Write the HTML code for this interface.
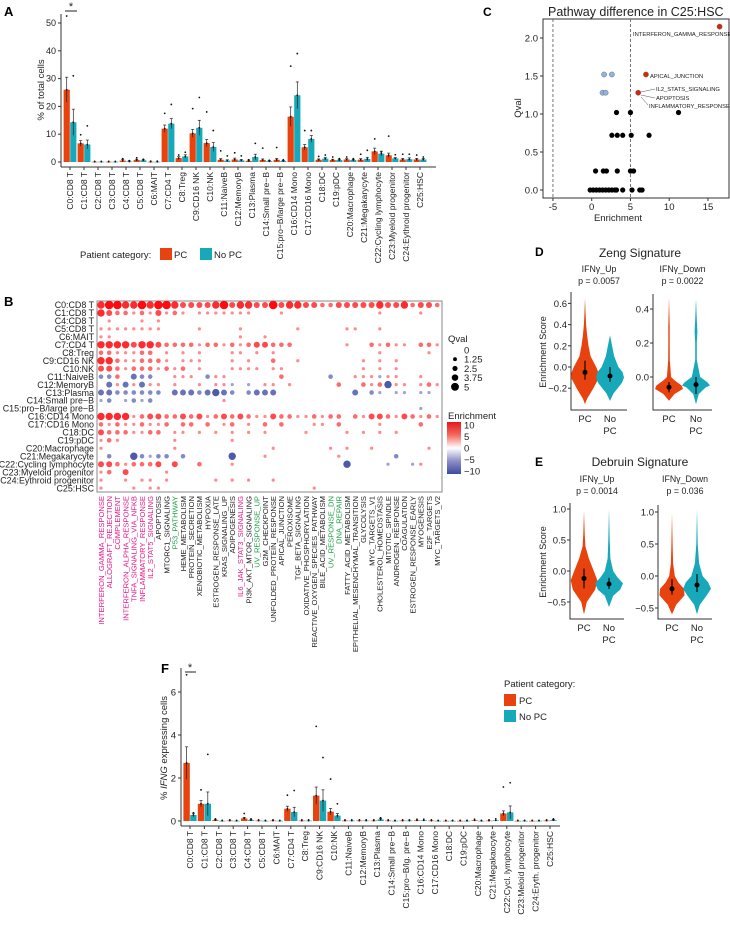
<!DOCTYPE html>
<html><head><meta charset="utf-8"><style>
html,body{margin:0;padding:0;background:#fff;}
svg{display:block;font-family:"Liberation Sans",Arial,sans-serif;}
</style></head><body>
<svg id="fig" width="730" height="926" viewBox="0 0 730 926" xmlns="http://www.w3.org/2000/svg">
<g id="gA"></g>
<g id="gB"></g>
<g id="gC"></g>
<g id="gD"></g>
<g id="gE"></g>
<g id="gF"></g>
</svg>
<script>
// ---------- Panel A data ----------
const aCats = ["C0:CD8 T","C1:CD8 T","C2:CD8 T","C3:CD8 T","C4:CD8 T","C5:CD8 T","C6:MAIT","C7:CD4 T","C8:Treg","C9:CD16 NK","C10:NK","C11:NaiveB","C12:MemoryB","C13:Plasma","C14:Small pre\u2212B","C15:pro\u2212B/large pre\u2212B","C16:CD14 Mono","C17:CD16 Mono","C18:DC","C19:pDC","C20:Macrophage","C21:Megakarycyte","C22:Cycling lymphocyte","C23:Myeloid progenitor","C24:Eythroid progenitor","C25:HSC"];
const aPC   = [26,6.7,0.1,0.1,0.5,0.7,0.1,12,1.4,10.3,6.8,0.8,0.9,0.4,0.7,0.8,16.3,5.3,0.8,0.7,0.9,0.8,3.8,2.4,0.9,0.9];
const aNoPC = [14.3,6.3,0.1,0.1,0.2,0.6,0.1,13.8,2,12.3,5.4,0.5,0.6,1.8,0.3,0.4,24,8.3,1.2,0.7,0.7,1.1,3,1.3,1,0.9];
const aErrPC   = [4.5,1,0,0,0.4,0.3,0,1.3,0.5,1.4,1.3,0.4,0.5,0.3,0.4,0.5,3.5,1,0.3,0.3,0.3,0.4,1.2,0.8,0.4,0.4];
const aErrNoPC = [4.7,1.6,0,0,0.2,0.2,0,1.8,0.6,2.7,1.6,0.3,0.3,1,0.2,0.2,4.8,1.2,0.4,0.3,0.2,0.6,0.9,0.3,0.5,0.4];
const aMaxPC   = [52.5,9.8,0.2,0.2,1.2,1.5,0.3,17.5,2.5,19.2,18,4,3.3,0.8,5,5.2,34.5,11.3,2,1.8,1.8,2.8,8.3,9.3,2.8,2.5];
const aMaxNoPC = [31,13,0.2,0.2,0.5,1,0.3,20.7,3.5,23.2,11.3,2.2,2.2,6.7,0.6,0.8,39,11.3,2.5,1.2,1.2,4.2,3.6,2.6,2.8,1.8];
const aTicks = [0,10,20,30,40,50];

// ---------- Panel B data ----------
const bRows = ["C0:CD8 T","C1:CD8 T","C4:CD8 T","C5:CD8 T","C6:MAIT","C7:CD4 T","C8:Treg","C9:CD16 NK","C10:NK","C11:NaiveB","C12:MemoryB","C13:Plasma","C14:Small pre\u2212B","C15:pro\u2212B/large pre\u2212B","C16:CD14 Mono","C17:CD16 Mono","C18:DC","C19:pDC","C20:Macrophage","C21:Megakarycyte","C22:Cycling lymphocyte","C23:Myeloid progenitor","C24:Eythroid progenitor","C25:HSC"];
const bCols = ["INTERFERON_GAMMA_RESPONSE","ALLOGRAFT_REJECTION","COMPLEMENT","INTERFERON_ALPHA_RESPONSE","TNFA_SIGNALING_VIA_NFKB","INFLAMMATORY_RESPONSE","IL2_STAT5_SIGNALING","APOPTOSIS","MTORC1_SIGNALING","P53_PATHWAY","HEME_METABOLISM","PROTEIN_SECRETION","XENOBIOTIC_METABOLISM","HYPOXIA","ESTROGEN_RESPONSE_LATE","KRAS_SIGNALING_UP","ADIPOGENESIS","IL6_JAK_STAT3_SIGNALING","PI3K_AKT_MTOR_SIGNALING","UV_RESPONSE_UP","G2M_CHECKPOINT","UNFOLDED_PROTEIN_RESPONSE","APICAL_JUNCTION","PEROXISOME","TGF_BETA_SIGNALING","OXIDATIVE_PHOSPHORYLATION","REACTIVE_OXYGEN_SPECIES_PATHWAY","BILE_ACID_METABOLISM","UV_RESPONSE_DN","DNA_REPAIR","FATTY_ACID_METABOLISM","EPITHELIAL_MESENCHYMAL_TRANSITION","GLYCOLYSIS","MYC_TARGETS_V1","CHOLESTEROL_HOMEOSTASIS","MITOTIC_SPINDLE","ANDROGEN_RESPONSE","COAGULATION","ESTROGEN_RESPONSE_EARLY","MYOGENESIS","E2F_TARGETS","MYC_TARGETS_V2"];
const bColColors = ["m","m","m","m","m","m","m","k","k","g","k","k","k","k","k","k","k","m","k","g","k","k","k","k","k","k","k","k","g","g","k","k","k","k","k","k","k","k","k","k","k","k"];
// per-cell level: digits 1-5 = positive enrichment/qval level, letters a-e = negative
const bCells = [
"455445455433334534433534433223333343342332",
"432212131210111111100010000000000010000100",
"010001010000000000000000000000000000000000",
"111111110000100001000000100000110010000000",
"110000000000000001001000000000000000000000",
"444434432222122121233222000000100212110221",
"221112201010100011010100000000000010000010",
"442112221011100010100200100000001010100000",
"332122212120100011110110000000001010100000",
"bb20cbb001110b11000000200000b00111a1100100",
"0c1c1c1101001011a0a0110100000200212d110121",
"ccbbbbbb0cccbcdcb0bccc000000000c0ba0aa0aa0",
"ab0abab00000000100000000000000000000000000",
"000000000000000000000000000000000000000a00",
"444412332232312323211322112122021332132121",
"212112112022020120102020001102000010000200",
"322211220110101010101000010000101010100000",
"121000000100000010000000000000000000000000",
"100000000100000000000100000010100100000010",
"0b00dbabb0b00000d0001000000001000000b00000",
"332122230300200010000000000000d0000a00a100",
"120300001000000000000000000000000000000000",
"100101101000001010100100000000000000000000",
"100010110000000000000000001000000000000000"];
const bQvalLegend = ["0","1.25","2.5","3.75","5"];
const bEnrLegend = ["10","5","0","\u22125","\u221210"];

// ---------- Panel C data ----------
const cEnr  = [16.5,7.0,6.0,1.6,2.6,1.4,1.8,3.2,5.0,11.2,2.6,3.3,4.0,5.1,7.4,0.5,1.5,1.9,3.3,5.0,5.4,-0.2,0.2,0.6,1.0,1.4,1.8,2.2,2.6,3.0,3.2,4.0,5.2,6.2,6.5];
const cQval = [2.15,1.52,1.28,1.52,1.52,1.28,1.28,1.02,1.02,1.02,0.72,0.72,0.72,0.72,0.72,0.25,0.25,0.25,0.25,0.25,0.25,0,0,0,0,0,0,0,0,0,0,0,0,0,0];
const cGroup= ["up","up","up","dn","dn","dn","dn","ns","ns","ns","ns","ns","ns","ns","ns","ns","ns","ns","ns","ns","ns","ns","ns","ns","ns","ns","ns","ns","ns","ns","ns","ns","ns","ns","ns"];
const cXTicks = [-5,0,5,10,15];
const cYTicks = [0,0.5,1,1.5,2];

// ---------- Violin data (D, E) ----------
const dUpPCv = [-0.35,-0.3,-0.2,-0.1,-0.05,0,0.1,0.2,0.3,0.4,0.5,0.65];
const dUpPCd = [0,0.15,0.6,1,0.95,0.8,0.4,0.25,0.15,0.08,0.04,0];
const dUpNov = [-0.32,-0.25,-0.15,-0.1,-0.05,0,0.1,0.2,0.3];
const dUpNod = [0,0.25,0.85,1,0.9,0.6,0.3,0.15,0];
const dDnPCv = [-0.14,-0.1,-0.07,-0.05,-0.02,0,0.1,0.2,0.3,0.47];
const dDnPCd = [0,0.4,1,0.9,0.4,0.15,0.06,0.05,0.05,0];
const dDnNov = [-0.16,-0.1,-0.06,-0.05,-0.03,0,0.1,0.2,0.27,0.35,0.46];
const dDnNod = [0,0.2,0.7,1,0.8,0.3,0.06,0.06,0.1,0.05,0];
const eUpPCv = [-0.7,-0.5,-0.3,-0.15,0,0.2,0.4,0.6,0.97];
const eUpPCd = [0,0.2,0.8,0.95,0.7,0.35,0.1,0.05,0];
const eUpNov = [-0.58,-0.4,-0.3,-0.2,-0.1,0,0.2,0.5,1.0];
const eUpNod = [0,0.3,0.8,1,0.6,0.3,0.1,0.05,0];
const eDnPCv = [-0.6,-0.45,-0.3,-0.2,-0.1,0,0.2,0.5,0.98];
const eDnPCd = [0,0.3,0.9,0.85,0.45,0.2,0.08,0.04,0];
const eDnNov = [-0.6,-0.45,-0.3,-0.2,-0.1,0,0.2,0.5,1.05];
const eDnNod = [0,0.2,0.7,1,0.8,0.4,0.15,0.05,0];
const vPoints = [-0.05,-0.085,-0.06,-0.045,-0.12,-0.21,-0.2,-0.14];
const vLow    = [-0.12,-0.14,-0.09,-0.1,-0.28,-0.29,-0.29,-0.25];
const vHigh   = [0.06,0.0,-0.03,0.0,0.04,-0.11,-0.05,0.03];

// ---------- Panel F data ----------
const fCats = ["C0:CD8 T","C1:CD8 T","C2:CD8 T","C3:CD8 T","C4:CD8 T","C5:CD8 T","C6:MAIT","C7:CD4 T","C8:Treg","C9:CD16 NK","C10:NK","C11:NaiveB","C12:MemoryB","C13:Plasma","C14:Small pre\u2212B","C15:pro\u2212B/lg. pre\u2212B","C16:CD14 Mono","C17:CD16 Mono","C18:DC","C19:pDC","C20:Macrophage","C21:Megakaocyte","C22:Cycl. lymphocyte","C23:Meloid progenitor","C24:Eryth. progenitor","C25:HSC"];
const fPC   = [2.7,0.8,0.04,0.02,0.12,0.02,0.02,0.57,0.02,1.18,0.43,0.02,0.02,0.02,0.02,0.02,0.03,0.02,0.01,0.01,0.03,0.02,0.35,0.01,0.01,0.02];
const fNoPC = [0.28,0.8,0.01,0.01,0.04,0.01,0.01,0.42,0.02,0.95,0.25,0.02,0.02,0.07,0.01,0.02,0.03,0.01,0.01,0.01,0.01,0.03,0.4,0.01,0.01,0.04];
const fErrPC   = [0.75,0.15,0.02,0.01,0.05,0.01,0.01,0.12,0.01,0.4,0.15,0.01,0.01,0.01,0.01,0.01,0.01,0.01,0,0,0.01,0.01,0.12,0,0,0.01];
const fErrNoPC = [0.08,0.55,0,0,0.02,0,0,0.22,0.01,0.5,0.1,0.01,0.01,0.04,0,0.01,0.01,0,0,0,0,0.01,0.3,0,0,0.02];
const fMaxPC   = [6.8,1.45,0.1,0.05,0.35,0.05,0.05,1.2,0.05,4.4,1.95,0.05,0.05,0.05,0.05,0.05,0.08,0.05,0.03,0.03,0.08,0.05,1.58,0.03,0.03,0.05];
const fMaxNoPC = [0.38,3.1,0.03,0.03,0.1,0.03,0.03,1.42,0.05,2.95,0.8,0.05,0.05,0.15,0.03,0.05,0.08,0.03,0.03,0.03,0.03,0.1,1.78,0.03,0.03,0.1];
const fTicks = [0,2,4,6];

// ---------- helpers ----------
const NS="http://www.w3.org/2000/svg";
const ORANGE="#E8430E", TEAL="#17A8B9";
function mk(parent, tag, attrs, text){
  const el=document.createElementNS(NS,tag);
  for(const k in attrs) el.setAttribute(k, attrs[k]);
  if(text!==undefined) el.textContent=text;
  parent.appendChild(el);
  return el;
}
function lbl(parent,x,y,t,size,anchor,extra){
  const a={x:x,y:y,'font-size':size,'text-anchor':anchor||'start',fill:'#222'};
  if(extra) for(const k in extra) a[k]=extra[k];
  return mk(parent,'text',a,t);
}

// ---------- Panel A ----------
(function(){
  const g=document.getElementById('gA');
  const x0=61, y0=162, ppu=2.78, cx0=70, step=14;
  const ay=v=>y0-v*ppu, ax=i=>cx0+i*step;
  let t=lbl(g,4,16,'A',13,'start',{'font-weight':'bold',fill:'#000'});
   
  let l=mk(g,'line',{x1:x0,y1:14,x2:x0,y2:167,stroke:'#333','stroke-width':1});
   
  l=mk(g,'line',{x1:x0,y1:167,x2:436,y2:167,stroke:'#333','stroke-width':1});
   
  aTicks.forEach(v=>{
    mk(g,'line',{x1:x0-3,y1:ay(v),x2:x0,y2:ay(v),stroke:'#333'});
    const tt=lbl(g,x0-5,ay(v)+3,String(v),9,'end');
     
  });
  t=lbl(g,0,0,'% of total cells',9.5,'middle',{transform:'translate(44,90) rotate(-90)'});
   
  aCats.forEach((c,i)=>{
    const cx=ax(i);
    [[aPC,aErrPC,aMaxPC,ORANGE,-3.3],[aNoPC,aErrNoPC,aMaxNoPC,TEAL,3.3]].forEach(s=>{
      const v=s[0][i], bx=cx+s[4]-3.1;
      const r=mk(g,'rect',{x:bx,y:ay(v),width:6.2,height:Math.max(0.6,v*ppu),fill:s[3]});
       
      const e=s[1][i];
      if(e>0){
        mk(g,'line',{x1:cx+s[4],y1:ay(v+e),x2:cx+s[4],y2:ay(Math.max(0,v-e)),stroke:'#222','stroke-width':0.7});
        mk(g,'line',{x1:cx+s[4]-1.5,y1:ay(v+e),x2:cx+s[4]+1.5,y2:ay(v+e),stroke:'#222','stroke-width':0.7});
      }
      const p=mk(g,'circle',{cx:cx+s[4],cy:ay(s[2][i]),r:0.9,fill:'#111'});
       
      mk(g,'circle',{cx:cx+s[4],cy:ay(v),r:0.9,fill:'#111'});
    });
    mk(g,'line',{x1:cx,y1:167,x2:cx,y2:170,stroke:'#333'});
    const tt=lbl(g,0,0,c,8.5,'end',{transform:'translate('+(cx+3)+',172) rotate(-90)'});
     
  });
  mk(g,'line',{x1:65,y1:11,x2:77,y2:11,stroke:'#222'});
  t=lbl(g,71,10,'*',11,'middle');  
  const lg=mk(g,'g',{});  
  lbl(lg,80,258,'Patient category:',9.5,'start');
  mk(lg,'rect',{x:160,y:248,width:12,height:12,fill:ORANGE});
  lbl(lg,174,258,'PC',9.5,'start');
  mk(lg,'rect',{x:200,y:248,width:12,height:12,fill:TEAL});
  lbl(lg,214,258,'No PC',9.5,'start');
})();

// ---------- Panel B ----------
(function(){
  const g=document.getElementById('gB');
  const bx=97, by=301, bw=345, bh=191, c0=101, cs=8.2, r0=305, rs=7.96;
  let t=lbl(g,4,306,'B',13,'start',{'font-weight':'bold',fill:'#000'});
   
  const box=mk(g,'rect',{x:bx,y:by,width:bw,height:bh,fill:'none',stroke:'#888','stroke-width':1});
   
  const sizes=[0,1.6,2.3,3.0,3.7,4.3];
  function col(ch){
    const code=ch.charCodeAt(0);
    if(ch>='1'&&ch<='5'){const n=+ch; const f=0.35+0.65*n/5; return {lv:n,c:'rgb(255,'+Math.round(255-(255-10)*f)+','+Math.round(255-(255-15)*f)+')'};}
    if(ch>='a'&&ch<='e'){const n=code-96; const f=0.35+0.65*n/5; return {lv:n,c:'rgb('+Math.round(255-(255-50)*f)+','+Math.round(255-(255-65)*f)+','+Math.round(255-(255-160)*f)+')'};}
    return null;
  }
  bRows.forEach((rn,ri)=>{
    const y=r0+ri*rs;
    const tt=lbl(g,94,y+3.2,rn,8.9,'end');
     
    const s=bCells[ri];
    for(let ci=0;ci<bCols.length;ci++){
      const o=col(s.charAt(ci)||'0'); if(!o) continue;
      const d=mk(g,'circle',{cx:c0+ci*cs,cy:y,r:sizes[o.lv],fill:o.c});
       
    }
  });
  const colMap={m:'#E6198A',g:'#1DA045',k:'#222'};
  bCols.forEach((cn,ci)=>{
    const x=c0+ci*cs;
    const tt=lbl(g,0,0,cn,7.6,'end',{transform:'translate('+(x+2.8)+',496) rotate(-90)',fill:colMap[bColColors[ci]]});
     
  });
  const lq=mk(g,'g',{});  
  lbl(lq,448,342,'Qval',9.5,'start');
  bQvalLegend.forEach((q,i)=>{
    const y=350+i*9.2;
    if(i>0) mk(lq,'circle',{cx:455,cy:y,r:sizes[i]*0.95+0.4,fill:'#000'});
    lbl(lq,464,y+3.5,q,9.5,'start');
  });
  const le=mk(g,'g',{});  
  lbl(le,448,419,'Enrichment',9.5,'start');
  const defs=mk(g,'defs',{});
  const gr=mk(defs,'linearGradient',{id:'enrGrad',x1:0,y1:0,x2:0,y2:1});
  [['0','#E3191C'],['0.25','#F16A5E'],['0.5','#FFFFFF'],['0.75','#8E8FC6'],['1','#3A4BA0']].forEach(s=>mk(gr,'stop',{offset:s[0],'stop-color':s[1]}));
  mk(le,'rect',{x:447,y:422,width:14,height:52,fill:'url(#enrGrad)'});
  bEnrLegend.forEach((v,i)=>{
    const y=425+i*11.5;
    lbl(le,464,y+3.5,v,9.5,'start');
  });
})();

// ---------- Panel C ----------
(function(){
  const g=document.getElementById('gC');
  const X0=591.7, xs=7.75, Y0=190, ys=76;
  const cx=v=>X0+v*xs, cy=v=>Y0-v*ys;
  let t=lbl(g,483,16,'C',12,'start',{'font-weight':'bold',fill:'#000'});
   
  t=lbl(g,548,16,'Pathway difference in C25:HSC',12.5,'start');
   
  const f=mk(g,'rect',{x:543,y:19,width:186,height:179,fill:'none',stroke:'#333','stroke-width':1});
   
  [-5,5].forEach(v=>{const d=mk(g,'line',{x1:cx(v),y1:19,x2:cx(v),y2:198,stroke:'#555','stroke-dasharray':'3,2','stroke-width':0.8});
     });
  cXTicks.forEach(v=>{mk(g,'line',{x1:cx(v),y1:198,x2:cx(v),y2:201,stroke:'#333'});
    const tt=lbl(g,cx(v),210,String(v),9.5,'middle');  });
  cYTicks.forEach(v=>{mk(g,'line',{x1:540,y1:cy(v),x2:543,y2:cy(v),stroke:'#333'});
    const tt=lbl(g,538,cy(v)+3.5,v.toFixed(1),9.5,'end');  });
  t=lbl(g,618,221,'Enrichment',9.5,'middle');  
  t=lbl(g,0,0,'Qval',9.5,'middle',{transform:'translate(521,108) rotate(-90)'});  
  const colors={up:'#D7260E',dn:'#8EB4E3',ns:'#000'};
  cEnr.forEach((e,i)=>{
    const p=mk(g,'circle',{cx:cx(e),cy:cy(cQval[i]),r:2.6,fill:colors[cGroup[i]],stroke:cGroup[i]==='ns'?'none':'#555','stroke-width':0.4});
     
  });
  const ann=[['INTERFERON_GAMMA_RESPONSE',633,36],['APICAL_JUNCTION',650,78],['IL2_STATS_SIGNALING',656,91],['APOPTOSIS',656,100],['INFLAMMATORY_RESPONSE',649,108]];
  ann.forEach(a=>{const tt=lbl(g,a[1],a[2],a[0],5.8,'start');  });
  mk(g,'line',{x1:641,y1:92,x2:655,y2:89,stroke:'#555','stroke-width':0.5});
  mk(g,'line',{x1:641,y1:95,x2:655,y2:98,stroke:'#555','stroke-width':0.5});
  mk(g,'line',{x1:641,y1:97,x2:648,y2:105,stroke:'#555','stroke-width':0.5});
})();

// ---------- Violins ----------
function violin(g,cxp,y0,ppu,vals,dens,color,name){
  const W=14; let L=[],R=[];
  vals.forEach((v,i)=>{const y=y0-v*ppu; R.push((cxp+dens[i]*W).toFixed(1)+','+y.toFixed(1)); L.unshift((cxp-dens[i]*W).toFixed(1)+','+y.toFixed(1));});
  const p=mk(g,'polygon',{points:R.concat(L).join(' '),fill:color});
   
}
function vpanel(g,o){
  const ax=mk(g,'path',{d:'M'+o.ax+','+o.top+' V'+o.bot+' H'+o.xr,fill:'none',stroke:'#333','stroke-width':1});
   
  o.ticks.forEach(v=>{const y=o.y0-v*o.ppu; mk(g,'line',{x1:o.ax-3,y1:y,x2:o.ax,y2:y,stroke:'#333'});
    const tt=lbl(g,o.ax-4,y+3.5,(v<0?'\u2212':'')+Math.abs(v).toFixed(1),9.5,'end');  });
  violin(g,o.x1,o.y0,o.ppu,o.pv,o.pd,ORANGE,'violin-pc');
  violin(g,o.x2,o.y0,o.ppu,o.nv,o.nd,TEAL,'violin-no-pc');
  [[o.x1,o.k],[o.x2,o.k+1]].forEach(a=>{
    mk(g,'line',{x1:a[0],y1:o.y0-vLow[a[1]]*o.ppu,x2:a[0],y2:o.y0-vHigh[a[1]]*o.ppu,stroke:'#000','stroke-width':1.1});
    const c=mk(g,'circle',{cx:a[0],cy:o.y0-vPoints[a[1]]*o.ppu,r:2.5,fill:'#000'});
     
  });
  lbl(g,o.x1,o.bot+12,'PC',9.5,'middle');
  lbl(g,o.x2,o.bot+12,'No',9.5,'middle');
  lbl(g,o.x2,o.bot+24,'PC',9.5,'middle');
  lbl(g,(o.ax+o.xr)/2,o.st-12,o.t1,8.8,'middle');
  lbl(g,(o.ax+o.xr)/2,o.st,o.t2,8.8,'middle');
}
(function(){
  const g=document.getElementById('gD');
  let t=lbl(g,535,256,'D',12,'start',{'font-weight':'bold',fill:'#000'});  
  t=lbl(g,640,257,'Zeng Signature',12,'middle');  
  t=lbl(g,0,0,'Enrichment Score',9,'middle',{transform:'translate(546,352) rotate(-90)'});  
  vpanel(g,{ax:571,top:292,bot:410,xr:627,y0:367,ppu:106,ticks:[-0.2,0,0.2,0.4,0.6],x1:585,x2:610,pv:dUpPCv,pd:dUpPCd,nv:dUpNov,nd:dUpNod,k:0,t1:'IFN\u03b3_Up',t2:'p = 0.0057',st:284});
  vpanel(g,{ax:653,top:294,bot:410,xr:712,y0:377,ppu:170,ticks:[0,0.2,0.4],x1:669,x2:696,pv:dDnPCv,pd:dDnPCd,nv:dDnNov,nd:dDnNod,k:2,t1:'IFN\u03b3_Down',t2:'p = 0.0022',st:284});
})();
(function(){
  const g=document.getElementById('gE');
  let t=lbl(g,535,466,'E',12,'start',{'font-weight':'bold',fill:'#000'});  
  t=lbl(g,640,466,'Debruin Signature',12,'middle');  
  t=lbl(g,0,0,'Enrichment Score',9,'middle',{transform:'translate(546,562) rotate(-90)'});  
  vpanel(g,{ax:570,top:503,bot:619,xr:624,y0:571,ppu:62,ticks:[-0.5,0,0.5,1.0],x1:584,x2:609,pv:eUpPCv,pd:eUpPCd,nv:eUpNov,nd:eUpNod,k:4,t1:'IFN\u03b3_Up',t2:'p = 0.0014',st:494});
  vpanel(g,{ax:658,top:505,bot:619,xr:712,y0:576,ppu:64,ticks:[-0.5,0,0.5,1.0],x1:672,x2:697,pv:eDnPCv,pd:eDnPCd,nv:eDnNov,nd:eDnNod,k:6,t1:'IFN\u03b3_Down',t2:'p = 0.036',st:494});
})();

// ---------- Panel F ----------
(function(){
  const g=document.getElementById('gF');
  const x0=181, y0=821, ppu=21.5, cx0=190, step=14.4;
  const fy=v=>y0-v*ppu, fx=i=>cx0+i*step;
  let t=lbl(g,161,673,'F',13,'start',{'font-weight':'bold',fill:'#000'});  
  let l=mk(g,'line',{x1:x0,y1:668,x2:x0,y2:826,stroke:'#333'});  
  l=mk(g,'line',{x1:x0,y1:826,x2:560,y2:826,stroke:'#333'});  
  fTicks.forEach(v=>{mk(g,'line',{x1:x0-3,y1:fy(v),x2:x0,y2:fy(v),stroke:'#333'});
    const tt=lbl(g,x0-5,fy(v)+3.5,String(v),9.5,'end');  });
  const yt=mk(g,'text',{'font-size':9.5,'text-anchor':'middle',fill:'#222',transform:'translate(167,748) rotate(-90)'});
   
  mk(yt,'tspan',{},'% ');mk(yt,'tspan',{'font-style':'italic'},'IFNG');mk(yt,'tspan',{},' expressing cells');
  fCats.forEach((c,i)=>{
    const cx=fx(i);
    [[fPC,fErrPC,fMaxPC,ORANGE,-3.4],[fNoPC,fErrNoPC,fMaxNoPC,TEAL,3.4]].forEach(s=>{
      const v=s[0][i];
      const r=mk(g,'rect',{x:cx+s[4]-3.2,y:fy(v),width:6.4,height:Math.max(0.6,v*ppu),fill:s[3]});
       
      const e=s[1][i];
      if(e>0.015){
        mk(g,'line',{x1:cx+s[4],y1:fy(v+e),x2:cx+s[4],y2:fy(Math.max(0,v-e)),stroke:'#222','stroke-width':0.7});
        mk(g,'line',{x1:cx+s[4]-1.5,y1:fy(v+e),x2:cx+s[4]+1.5,y2:fy(v+e),stroke:'#222','stroke-width':0.7});
      }
      const p=mk(g,'circle',{cx:cx+s[4],cy:fy(s[2][i]),r:0.9,fill:'#111'});
       
      mk(g,'circle',{cx:cx+s[4],cy:fy(v),r:0.9,fill:'#111'});
    });
    mk(g,'line',{x1:cx,y1:826,x2:cx,y2:829,stroke:'#333'});
    const tt=lbl(g,0,0,c,8.5,'end',{transform:'translate('+(cx+3)+',831) rotate(-90)'});
     
  });
  mk(g,'line',{x1:185,y1:672,x2:196,y2:672,stroke:'#222'});
  t=lbl(g,190,671,'*',11,'middle');  
  const lg=mk(g,'g',{});  
  lbl(lg,504,687,'Patient category:',9.5,'start');
  mk(lg,'rect',{x:504,y:694,width:12,height:12,fill:ORANGE});
  lbl(lg,519,704,'PC',9.5,'start');
  mk(lg,'rect',{x:504,y:710,width:12,height:12,fill:TEAL});
  lbl(lg,519,720,'No PC',9.5,'start');
})();
</script>
</body></html>
